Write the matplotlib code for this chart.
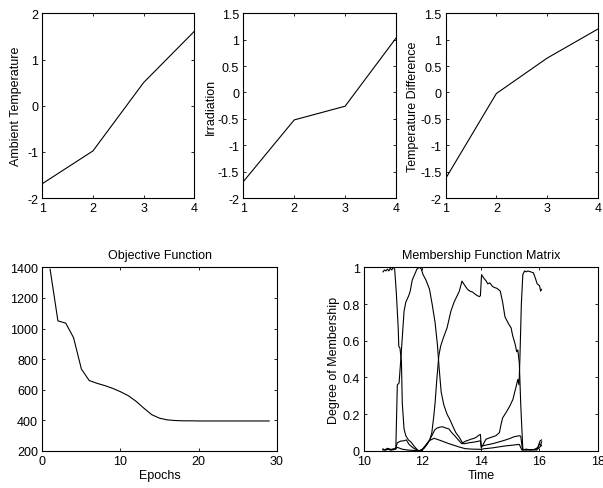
import matplotlib
matplotlib.use("Agg")
import matplotlib.pyplot as plt

# --- top row: normalised inputs vs cluster index ---
idx = [1, 2, 3, 4]
ambient = [-1.69, -0.98, 0.5, 1.61]
irradiation = [-1.69, -0.52, -0.26, 1.03]
temp_diff = [-1.63, -0.02, 0.65, 1.2]

# --- objective function per epoch ---
epochs = list(range(1, 30))
objective = [1387, 1050, 1035, 940, 735, 660, 642, 627, 609, 587, 561, 524,
             479, 437, 414, 403, 399, 397, 397, 396, 396, 396, 396, 396,
             396, 396, 396, 396, 396]

# --- membership curves (time, degree) ---
a_t = [10.65, 10.70, 10.75, 10.80, 10.85, 10.90, 10.95, 11.00, 11.05, 11.11,
       11.17, 11.19, 11.23, 11.28, 11.31, 11.37, 11.43, 11.52, 11.60, 11.71,
       11.86, 12.00, 12.10, 12.23, 12.40, 12.60, 12.90, 13.25, 13.45, 13.70,
       14.00, 14.10, 14.40, 14.80, 15.10, 15.31, 15.40, 15.60, 15.80, 15.92,
       16.00, 16.04, 16.07]
a_v = [0.975, 0.985, 0.98, 0.99, 0.98, 0.995, 0.985, 1.0, 0.99, 0.85,
       0.67, 0.57, 0.56, 0.49, 0.26, 0.12, 0.083, 0.06, 0.05, 0.027,
       0.0, 0.01, 0.03, 0.056, 0.069, 0.058, 0.04, 0.022, 0.013, 0.01,
       0.009, 0.012, 0.017, 0.027, 0.032, 0.036, 0.005, 0.008, 0.006, 0.012,
       0.04, 0.03, 0.05]

b_t = [10.65, 10.75, 10.85, 10.95, 11.05, 11.09, 11.14, 11.20, 11.26, 11.37,
       11.43, 11.53, 11.58, 11.65, 11.73, 11.81, 11.90, 11.96, 12.02, 12.12,
       12.24, 12.33, 12.43, 12.51, 12.57, 12.64, 12.73, 12.84, 12.94, 13.05,
       13.14, 13.26, 13.37, 13.48, 13.56, 13.65, 13.75, 13.83, 13.94, 13.98,
       14.01, 14.10, 14.29, 14.45, 14.63, 14.80, 14.97, 15.14, 15.31, 15.36,
       15.42, 15.55, 15.70, 15.85, 15.95, 16.02, 16.07]
b_v = [0.01, 0.005, 0.012, 0.008, 0.01, 0.02, 0.36, 0.37, 0.5, 0.76,
       0.81, 0.845, 0.87, 0.93, 0.96, 0.99, 1.0, 0.99, 0.96, 0.93,
       0.88, 0.8, 0.7, 0.58, 0.45, 0.32, 0.25, 0.2, 0.17, 0.13,
       0.1, 0.074, 0.044, 0.054, 0.058, 0.064, 0.068, 0.074, 0.087, 0.09,
       0.025, 0.03, 0.036, 0.042, 0.05, 0.058, 0.067, 0.078, 0.083, 0.08,
       0.005, 0.01, 0.005, 0.01, 0.02, 0.055, 0.06]

c_t = [10.65, 10.80, 10.95, 11.08, 11.14, 11.26, 11.35, 11.45, 11.54, 11.62,
       11.70, 11.85, 11.95, 12.05, 12.15, 12.25, 12.32, 12.38, 12.43, 12.49,
       12.56, 12.62, 12.70, 12.84, 12.97, 13.08, 13.14, 13.26, 13.35, 13.43,
       13.54, 13.62, 13.71, 13.83, 13.94, 13.98, 14.02, 14.10, 14.18, 14.23,
       14.30, 14.40, 14.46, 14.55, 14.66, 14.74, 14.82, 14.95, 15.03, 15.08,
       15.17, 15.22, 15.26, 15.31, 15.36, 15.43, 15.55, 15.75, 15.90, 16.00,
       16.07]
c_v = [0.005, 0.01, 0.005, 0.01, 0.045, 0.054, 0.055, 0.06, 0.036, 0.025,
       0.015, 0.003, 0.0, 0.015, 0.035, 0.06, 0.1, 0.18, 0.26, 0.39,
       0.52, 0.57, 0.61, 0.67, 0.76, 0.81, 0.83, 0.87, 0.925, 0.905,
       0.88, 0.87, 0.865, 0.85, 0.84, 0.845, 0.96, 0.94, 0.925, 0.91,
       0.915, 0.895, 0.89, 0.885, 0.87, 0.81, 0.73, 0.69, 0.67, 0.63,
       0.58, 0.54, 0.55, 0.48, 0.25, 0.01, 0.005, 0.008, 0.005, 0.02,
       0.03]

d_t = [10.65, 10.72, 10.80, 10.90, 11.00, 11.08, 11.14, 11.30, 11.50, 11.80,
       11.95, 12.05, 12.15, 12.23, 12.32, 12.42, 12.50, 12.60, 12.68, 12.80,
       12.90, 13.00, 13.10, 13.20, 13.34, 13.45, 13.60, 13.75, 13.94, 13.98,
       14.01, 14.17, 14.34, 14.51, 14.63, 14.68, 14.74, 14.86, 14.97, 15.09,
       15.20, 15.26, 15.30, 15.33, 15.38, 15.43, 15.49, 15.55, 15.60, 15.70,
       15.79, 15.86, 15.92, 16.00, 16.04, 16.07]
d_v = [0.01, 0.005, 0.015, 0.005, 0.012, 0.01, 0.02, 0.01, 0.005, 0.002,
       0.0, 0.015, 0.035, 0.056, 0.083, 0.115, 0.125, 0.13, 0.132, 0.125,
       0.12, 0.1, 0.083, 0.065, 0.04, 0.04, 0.045, 0.048, 0.054, 0.056,
       0.017, 0.064, 0.074, 0.083, 0.1, 0.14, 0.18, 0.21, 0.24, 0.28,
       0.35, 0.39, 0.36, 0.5, 0.8, 0.96, 0.98, 0.975, 0.98, 0.975,
       0.97, 0.94, 0.91, 0.9, 0.87, 0.88]

FS = 9
plt.rcParams["font.family"] = ["Liberation Sans", "DejaVu Sans"]
plt.rcParams["font.size"] = FS
plt.rcParams["axes.unicode_minus"] = False
plt.rcParams["axes.linewidth"] = 0.8


def matlab_axes(ax):
    ax.tick_params(direction="in", top=True, right=True, length=2.5, width=0.6,
                   labelsize=FS, pad=3)


fig = plt.figure(figsize=(6.03, 4.89), dpi=100)

ax1 = fig.add_axes([0.0701, 0.5930, 0.2521, 0.3777])
ax2 = fig.add_axes([0.4035, 0.5930, 0.2532, 0.3777])
ax3 = fig.add_axes([0.7391, 0.5930, 0.2521, 0.3777])
ax4 = fig.add_axes([0.0701, 0.0757, 0.3892, 0.3757])
ax5 = fig.add_axes([0.6036, 0.0757, 0.3881, 0.3757])

lw = 0.8
ax1.plot(idx, ambient, color="black", lw=lw)
ax1.set_xlim(1, 4)
ax1.set_ylim(-2, 2)
ax1.set_yticks([-2, -1, 0, 1, 2])
ax1.set_ylabel("Ambient Temperature", labelpad=4)

for ax, vals, label in [(ax2, irradiation, "Irradiation"),
                        (ax3, temp_diff, "Temperature Difference")]:
    ax.plot(idx, vals, color="black", lw=lw)
    ax.set_xlim(1, 4)
    ax.set_ylim(-2, 1.5)
    ax.set_yticks([-2, -1.5, -1, -0.5, 0, 0.5, 1, 1.5])
    ax.set_yticklabels(["-2", "-1.5", "-1", "-0.5", "0", "0.5", "1", "1.5"])
    ax.set_ylabel(label, labelpad=1)

for ax in (ax1, ax2, ax3):
    ax.set_xticks(idx)
    matlab_axes(ax)

ax4.plot(epochs, objective, color="black", lw=lw)
ax4.set_xlim(0, 30)
ax4.set_ylim(200, 1400)
ax4.set_xticks([0, 10, 20, 30])
ax4.set_yticks(range(200, 1401, 200))
ax4.set_xlabel("Epochs", labelpad=1.5)
ax4.set_title("Objective Function", fontsize=FS, pad=7)
matlab_axes(ax4)

for t, v in [(a_t, a_v), (b_t, b_v), (c_t, c_v), (d_t, d_v)]:
    ax5.plot(t, v, color="black", lw=lw)
ax5.set_xlim(10, 18)
ax5.set_ylim(0, 1)
ax5.set_xticks([10, 12, 14, 16, 18])
ax5.set_yticks([0, 0.2, 0.4, 0.6, 0.8, 1])
ax5.set_yticklabels(["0", "0.2", "0.4", "0.6", "0.8", "1"])
ax5.set_xlabel("Time", labelpad=1.5)
ax5.set_ylabel("Degree of Membership", labelpad=2)
ax5.set_title("Membership Function Matrix", fontsize=FS, pad=7)
matlab_axes(ax5)

fig.savefig("out.png", dpi=100)
